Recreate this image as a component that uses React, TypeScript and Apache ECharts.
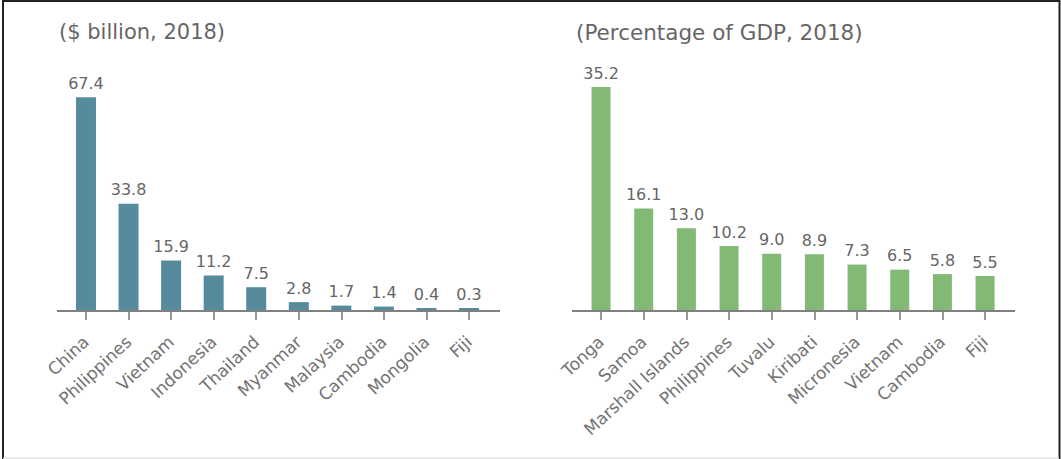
import React, { useEffect, useRef } from "react";
import * as echarts from "echarts";

const leftTitle = "($ billion, 2018)";
const rightTitle = "(Percentage of GDP, 2018)";

const leftCategories = ["China", "Philippines", "Vietnam", "Indonesia", "Thailand", "Myanmar", "Malaysia", "Cambodia", "Mongolia", "Fiji"];
const leftValues = [67.4, 33.8, 15.9, 11.2, 7.5, 2.8, 1.7, 1.4, 0.4, 0.3];

const rightCategories = ["Tonga", "Samoa", "Marshall Islands", "Philippines", "Tuvalu", "Kiribati", "Micronesia", "Vietnam", "Cambodia", "Fiji"];
const rightValues = [35.2, 16.1, 13.0, 10.2, 9.0, 8.9, 7.3, 6.5, 5.8, 5.5];

const FONT = "DejaVu Sans";
const BLUE = "#568a9d";
const GREEN = "#82b975";

export default function App() {
  const ref = useRef<HTMLDivElement>(null);
  useEffect(() => {
    if (!ref.current) return;
    const chart = echarts.init(ref.current, undefined, { renderer: "svg" });
    const axisLabel = {
      rotate: 43,
      margin: 28,
      fontFamily: FONT,
      fontSize: 17,
      color: "#727272",
      interval: 0,
    };
    const axisLine = { show: true, lineStyle: { color: "#808080", width: 2 } };
    const axisTick = { show: true, alignWithLabel: true, length: 9, lineStyle: { color: "#777", width: 1.5 } };
    const valueLabel = {
      show: true,
      position: "top" as const,
      distance: 6,
      fontFamily: FONT,
      fontSize: 16,
      color: "#666666",
      formatter: (p: any) => Number(p.value).toFixed(1),
    };
    chart.setOption({
      animation: false,
      backgroundColor: "#ffffff",
      title: [
        { text: leftTitle, left: 54, top: 16, textStyle: { fontFamily: FONT, fontSize: 21, fontWeight: "normal", color: "#666" } },
        { text: rightTitle, left: 571, top: 16, textStyle: { fontFamily: FONT, fontSize: 21.5, fontWeight: "normal", color: "#666" } },
      ],
      grid: [
        { left: 64.7, width: 425.6, top: 89, bottom: 148 },
        { left: 579.7, width: 426.7, top: 56.5, bottom: 148 },
      ],
      xAxis: [
        { type: "category", gridIndex: 0, data: leftCategories, axisLine, axisTick, axisLabel },
        { type: "category", gridIndex: 1, data: rightCategories, axisLine, axisTick, axisLabel },
      ],
      yAxis: [
        { type: "value", gridIndex: 0, min: 0, max: 70, show: false, splitLine: { show: false } },
        { type: "value", gridIndex: 1, min: 0, max: 40, show: false, splitLine: { show: false } },
      ],
      series: [
        { type: "bar", xAxisIndex: 0, yAxisIndex: 0, data: leftValues, barWidth: 20, barMinHeight: 3, itemStyle: { color: BLUE }, label: valueLabel },
        { type: "bar", xAxisIndex: 1, yAxisIndex: 1, data: rightValues, barWidth: 19, itemStyle: { color: GREEN }, label: valueLabel },
      ],
      graphic: [
        { type: "line", shape: { x1: 57, y1: 311, x2: 500, y2: 311 }, style: { stroke: "#808080", lineWidth: 2 }, z: 10 },
        { type: "line", shape: { x1: 572, y1: 311, x2: 1015, y2: 311 }, style: { stroke: "#808080", lineWidth: 2 }, z: 10 },
        { type: "polyline", shape: { points: [[3, 459], [3, 1], [1059.5, 1], [1059.5, 459]] }, style: { stroke: "#222", lineWidth: 2, fill: "none" } },
        { type: "line", shape: { x1: 3, y1: 458, x2: 1059, y2: 458 }, style: { stroke: "#e2e2e2", lineWidth: 1.5 } },
      ],
    });
    return () => chart.dispose();
  }, []);
  return <div ref={ref} style={{ position: "absolute", left: 0, top: 0, width: 1061, height: 459 }} />;
}
